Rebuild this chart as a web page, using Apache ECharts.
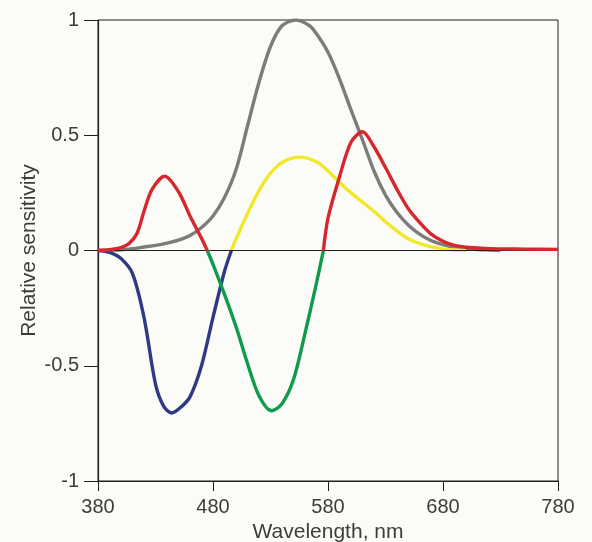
<!DOCTYPE html>
<html>
<head>
<meta charset="utf-8">
<script src="https://cdn.jsdelivr.net/npm/echarts@6/dist/echarts.min.js"></script>
<style>
html,body{margin:0;padding:0;background:#fbfbf7;}
#c{width:592px;height:542px;}
</style>
</head>
<body>
<div id="c"></div>
<script>
// Tick labels
var xTicks = [380, 480, 580, 680, 780];
var yTicks = [-1, -0.5, 0, 0.5, 1];

// Gray (luminance) curve
var grayNm  = [380, 390, 400, 410, 420, 430, 440, 450, 460, 470, 480, 490, 500, 510, 520, 530, 540, 552, 564, 570, 580, 590, 600, 610, 620, 630, 640, 650, 660, 670, 680, 690, 700, 710, 720, 730];
var grayVal = [0, 0.001, 0.003, 0.008, 0.015, 0.022, 0.032, 0.045, 0.065, 0.1, 0.15, 0.23, 0.35, 0.54, 0.73, 0.885, 0.975, 1.0, 0.975, 0.94, 0.86, 0.745, 0.61, 0.48, 0.345, 0.24, 0.165, 0.11, 0.07, 0.042, 0.025, 0.014, 0.008, 0.004, 0.002, 0];

// Red-green channel: red positive lobes, green negative lobe
var red1Nm  = [380, 390, 400, 407, 414, 420, 427, 438, 450, 460, 470, 475];
var red1Val = [0, 0.003, 0.012, 0.03, 0.075, 0.17, 0.265, 0.322, 0.255, 0.15, 0.053, 0];

var greenNm  = [475, 480, 490, 500, 510, 520, 531, 540, 550, 560, 570, 576];
var greenVal = [0, -0.06, -0.19, -0.33, -0.49, -0.63, -0.695, -0.665, -0.56, -0.36, -0.14, 0];

var red2Nm  = [576, 580, 590, 600, 610, 620, 630, 640, 650, 660, 670, 680, 690, 700, 720, 750, 780];
var red2Val = [0, 0.14, 0.32, 0.47, 0.515, 0.45, 0.36, 0.265, 0.18, 0.12, 0.07, 0.04, 0.022, 0.014, 0.008, 0.006, 0.005];

// Yellow-blue channel
var blueNm  = [380, 390, 400, 410, 420, 430, 437, 444, 452, 460, 470, 480, 490, 496];
var blueVal = [0, -0.008, -0.035, -0.1, -0.29, -0.58, -0.675, -0.705, -0.68, -0.635, -0.5, -0.29, -0.09, 0];

var yellowNm  = [496, 500, 510, 520, 530, 540, 555, 570, 580, 590, 600, 610, 620, 630, 640, 650, 660, 670, 680, 690, 700];
var yellowVal = [0, 0.05, 0.16, 0.26, 0.335, 0.382, 0.405, 0.385, 0.345, 0.295, 0.25, 0.21, 0.17, 0.125, 0.085, 0.05, 0.03, 0.016, 0.007, 0.002, 0];

function zip(a, b) { return a.map(function (v, i) { return [v, b[i]]; }); }

var FONT = '"Liberation Sans", Arial, sans-serif';
var TXT = '#3c3c3c';
var AX = '#1e1e1e';

function lineSeries(name, nm, val, color, z) {
  return {
    name: name, type: 'line', data: zip(nm, val),
    smooth: 0.3, showSymbol: false, symbol: 'none', z: z,
    lineStyle: { color: color, width: 3.4 }
  };
}

var chart = echarts.init(document.getElementById('c'), null, { renderer: 'canvas' });
chart.setOption({
  backgroundColor: '#fbfbf7',
  animation: false,
  grid: { left: 98, top: 20, width: 460, height: 461, show: true, borderColor: AX, borderWidth: 1, backgroundColor: 'transparent', containLabel: false, outerBoundsMode: 'none' },
  xAxis: {
    type: 'value', min: xTicks[0], max: xTicks[xTicks.length - 1], interval: 100,
    name: 'Wavelength, nm', nameLocation: 'middle', nameGap: 41, nameMoveOverlap: false,
    nameTextStyle: { fontFamily: FONT, fontSize: 21, color: TXT },
    axisLine: { show: true, onZero: false, lineStyle: { color: AX, width: 1.2 } },
    axisTick: { show: true, inside: false, length: 10, lineStyle: { color: AX } },
    axisLabel: { fontFamily: FONT, fontSize: 20, color: TXT, margin: 16 },
    splitLine: { show: false }
  },
  yAxis: {
    type: 'value', min: yTicks[0], max: yTicks[yTicks.length - 1], interval: 0.5,
    name: 'Relative sensitivity', nameLocation: 'middle', nameGap: 58, nameMoveOverlap: false,
    nameTextStyle: { fontFamily: FONT, fontSize: 21, color: TXT },
    axisLine: { show: true, onZero: false, lineStyle: { color: AX, width: 1.2 } },
    axisTick: { show: true, inside: false, length: 14, lineStyle: { color: AX } },
    axisLabel: { fontFamily: FONT, fontSize: 20, color: TXT, margin: 19 },
    splitLine: { show: false }
  },
  series: [
    {
      type: 'line', data: [], z: 1,
      markLine: {
        silent: true, symbol: 'none', label: { show: false },
        lineStyle: { color: AX, width: 1.2, type: 'solid' },
        data: [{ yAxis: 0 }]
      }
    },
    lineSeries('gray', grayNm, grayVal, '#7c7c7c', 2),
    lineSeries('yellow', yellowNm, yellowVal, '#f3e72c', 3),
    lineSeries('blue', blueNm, blueVal, '#2f3a85', 4),
    lineSeries('green', greenNm, greenVal, '#0f9a4c', 5),
    lineSeries('red1', red1Nm, red1Val, '#d8262f', 6),
    lineSeries('red2', red2Nm, red2Val, '#d8262f', 6)
  ]
});
</script>
</body>
</html>
